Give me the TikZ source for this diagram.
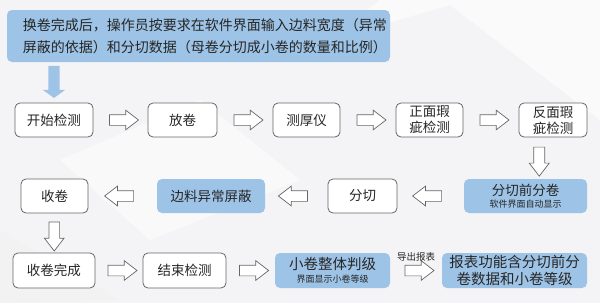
\documentclass[tikz,border=0pt]{standalone}
\usepackage{fontspec}
\setmainfont{Noto Sans CJK SC}
\usetikzlibrary{shapes.arrows,calc}
\definecolor{boxblue}{HTML}{9DC3E6}
\definecolor{txt}{HTML}{262626}
\definecolor{edge}{HTML}{666666}
\definecolor{bg}{HTML}{F4F4F6}
\tikzset{
  wbox/.style={draw=edge,line width=0.8pt,fill=white,rounded corners=5pt,align=center,inner sep=0pt,text=txt,font=\fontsize{13.5}{15}\selectfont},
  bbox/.style={fill=boxblue,rounded corners=5pt,align=center,inner sep=0pt,text=txt,font=\fontsize{13.5}{15}\selectfont},
  harrow/.style={single arrow,draw=edge,fill=white,line width=0.7pt,minimum height=29pt,minimum width=19pt,single arrow head extend=4.5pt,single arrow tip angle=75,inner sep=5pt},
}
\begin{document}
\begin{tikzpicture}[x=1pt,y=-1pt]
\fill[bg] (0,0) rectangle (600,303);
\useasboundingbox (0,0) rectangle (600,303);
\fill[white,opacity=0.6] (330,40) -- (450,5) -- (600,120) -- (600,0) -- (380,0) -- cycle;
\fill[white,opacity=0.5] (60,160) -- (200,100) -- (300,180) -- (150,240) -- cycle;
\fill[gray!10,opacity=0.5] (0,230) -- (120,300) -- (0,303) -- cycle;

% top box
\node[bbox,minimum width=383pt,minimum height=52pt,align=left,font=\fontsize{14}{22}\selectfont,text width=351pt] (top) at (198.5,36) {换卷完成后，操作员按要求在软件界面输入边料宽度（异常\\屏蔽的依据）和分切数据（母卷分切成小卷的数量和比例）};

% row 1
\node[wbox,minimum width=78pt,minimum height=34pt] (n1) at (54,120) {开始检测};
\node[wbox,minimum width=69pt,minimum height=34pt] (n2) at (182.5,120) {放卷};
\node[wbox,minimum width=67pt,minimum height=34pt] (n3) at (306.5,120) {测厚仪};
\node[wbox,minimum width=67pt,minimum height=34pt,font=\fontsize{13.5}{16}\selectfont] (n4) at (429.5,120) {正面瑕\\疵检测};
\node[wbox,minimum width=68pt,minimum height=34pt,font=\fontsize{13.5}{16}\selectfont] (n5) at (553,120) {反面瑕\\疵检测};

% row 2
\node[wbox,minimum width=67pt,minimum height=34pt] (m1) at (54.5,196) {收卷};
\node[bbox,minimum width=108pt,minimum height=34pt] (m2) at (211,196) {边料异常屏蔽};
\node[wbox,minimum width=69pt,minimum height=34pt] (m3) at (362.5,196) {分切};
\node[bbox,minimum width=123pt,minimum height=34pt] (m4) at (525.5,196) {分切前分卷\\[-3pt]{\fontsize{9}{10}\selectfont 软件界面自动显示}};

% row 3
\node[wbox,minimum width=82pt,minimum height=35pt] (r1) at (54,270.5) {收卷完成};
\node[wbox,minimum width=83pt,minimum height=35pt] (r2) at (184.5,270.5) {结束检测};
\node[bbox,minimum width=115pt,minimum height=35pt,font=\fontsize{14.5}{16}\selectfont] (r3) at (332.5,270.5) {小卷整体判级\\[-3pt]{\fontsize{9}{10}\selectfont 界面显示小卷等级}};
\node[bbox,minimum width=145pt,minimum height=35pt,font=\fontsize{14.5}{17}\selectfont] (r4) at (514.5,270.5) {报表功能含分切前分\\卷数据和小卷等级};

% blue down arrow
\node[single arrow,fill=boxblue,shape border rotate=270,minimum height=32pt,minimum width=22pt,single arrow head extend=5.5pt,single arrow tip angle=108,inner sep=5.5pt,anchor=tip] (ba) at ($(top.south -| n1)+(0,36)$) {};

% hollow arrows row 1
\node[harrow] (a1) at ($(n1.east)!0.5!(n2.west)$) {};
\node[harrow] (a2) at ($(n2.east)!0.5!(n3.west)$) {};
\node[harrow] (a3) at ($(n3.east)!0.5!(n4.west)$) {};
\node[harrow] (a4) at ($(n4.east)!0.5!(n5.west)$) {};
% down from n5
\node[harrow,shape border rotate=270,minimum width=20pt] (d1) at ($(n5.south)!0.5!(m4.north)$) {};
% row 2 leftwards
\node[harrow,shape border rotate=180] (b1) at ($(m4.west)!0.5!(m3.east)$) {};
\node[harrow,shape border rotate=180] (b2) at ($(m3.west)!0.5!(m2.east)$) {};
\node[harrow,shape border rotate=180] (b3) at ($(m2.west)!0.5!(m1.east)$) {};
% down from m1
\node[harrow,shape border rotate=270] (d2) at ($(m1.south)!0.5!(r1.north)$) {};
% row 3
\node[harrow] (c1) at ($(r1.east)!0.5!(r2.west)$) {};
\node[harrow] (c2) at ($(r2.east)!0.5!(r3.west)$) {};
\node[harrow] (c3) at ($(r3.east)!0.5!(r4.west)$) {};
\node[text=txt,font=\fontsize{9.5}{10}\selectfont,anchor=south,inner sep=1pt] (lbl) at ($(c3.north)+(0,-2)$) {导出报表};
\end{tikzpicture}
\end{document}
